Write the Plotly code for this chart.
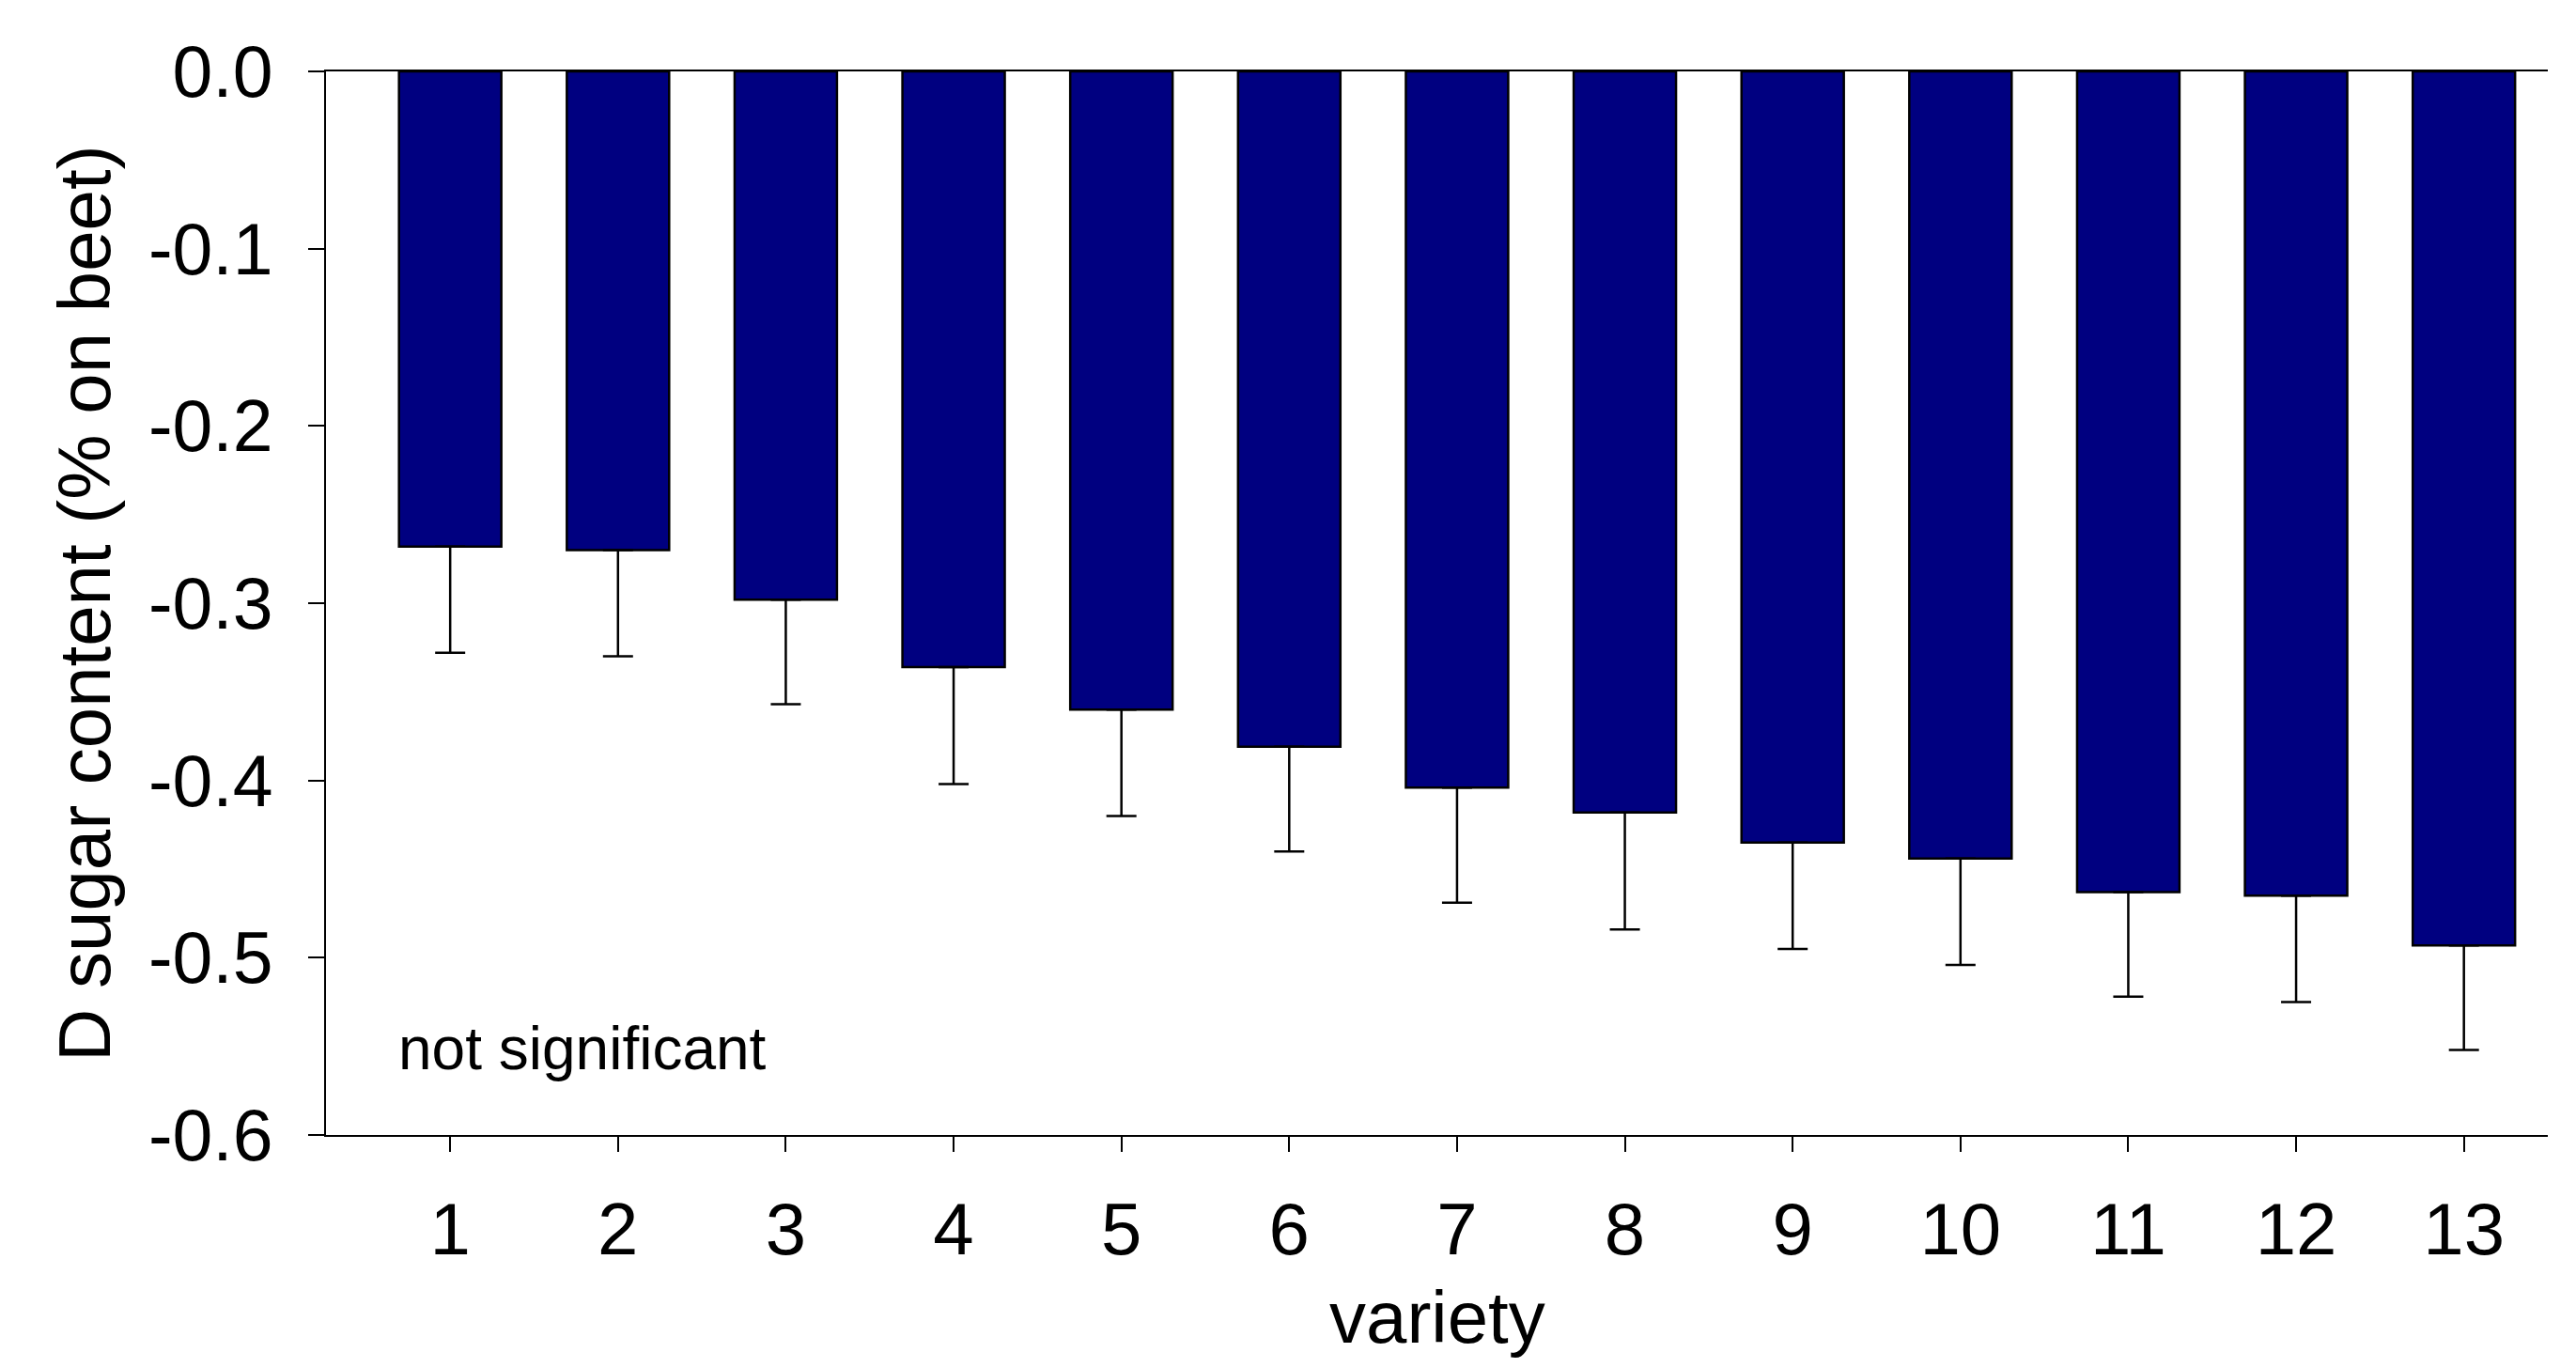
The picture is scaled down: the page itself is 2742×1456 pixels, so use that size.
import plotly.graph_objects as go

varieties = [1, 2, 3, 4, 5, 6, 7, 8, 9, 10, 11, 12, 13]
sugar_change = [-0.268, -0.270, -0.298, -0.336, -0.360, -0.381, -0.404,
                -0.418, -0.435, -0.444, -0.463, -0.465, -0.493]
sugar_err = [0.060, 0.060, 0.059, 0.066, 0.060, 0.059, 0.065,
             0.066, 0.060, 0.060, 0.059, 0.060, 0.059]
y_tickvals = [0.0, -0.1, -0.2, -0.3, -0.4, -0.5, -0.6]
y_ticktext = ["0.0", "-0.1", "-0.2", "-0.3", "-0.4", "-0.5", "-0.6"]
x_ticktext = [str(v) for v in varieties]

FONT = "Liberation Sans, Arial, sans-serif"
# page body has an 8px default margin, so the figure is drawn from (8, 8)
W, H = 2726, 1440
L, R, T, B = 339, 22, 68, 240
PW, PH = W - L - R, H - T - B
OFF = 8

fig = go.Figure()
fig.add_trace(go.Bar(
    x=varieties, y=sugar_change, width=0.61,
    marker=dict(color="#000080", line=dict(color="black", width=2.5)),
    error_y=dict(type="data", symmetric=False,
                 array=[0] * len(sugar_err), arrayminus=sugar_err,
                 color="black", thickness=2.5, width=16),
    showlegend=False,
))

fig.update_layout(
    template="none",
    width=W, height=H,
    margin=dict(l=L, r=R, t=T, b=B, pad=0, autoexpand=False),
    plot_bgcolor="white", paper_bgcolor="white",
    font=dict(family=FONT, color="black"),
    xaxis=dict(
        range=[0.26, 13.5], tickvals=varieties, ticktext=x_ticktext,
        showline=True, linecolor="black", linewidth=2, mirror=True,
        ticks="outside", ticklen=16, tickwidth=2, tickcolor="black",
        tickfont=dict(size=78, family=FONT), ticklabelstandoff=15,
        showgrid=False, zeroline=False, automargin=False,
    ),
    yaxis=dict(
        range=[-0.6, 0.0], tickvals=y_tickvals, ticktext=y_ticktext,
        showline=True, linecolor="black", linewidth=2,
        ticks="outside", ticklen=17, tickwidth=2, tickcolor="black",
        tickfont=dict(size=77, family=FONT), ticklabelstandoff=22,
        showgrid=False, zeroline=False, automargin=False,
    ),
    annotations=[
        dict(text="D sugar content (% on beet)", textangle=-90,
             xref="paper", yref="paper",
             x=(90 - OFF - L) / PW, y=0.5, xanchor="center", yanchor="middle",
             showarrow=False, font=dict(size=78, family=FONT)),
        dict(text="variety", xref="paper", yref="paper",
             x=0.5, y=(H - B - (1402 - OFF)) / PH, xanchor="center", yanchor="middle",
             showarrow=False, font=dict(size=78, family=FONT)),
        dict(text="not significant", xref="paper", yref="paper",
             x=(422 - OFF - L) / PW, y=(H - B - (1116 - OFF)) / PH,
             xanchor="left", yanchor="middle",
             showarrow=False, font=dict(size=64, family=FONT)),
    ],
)

fig.write_html("out.html")
